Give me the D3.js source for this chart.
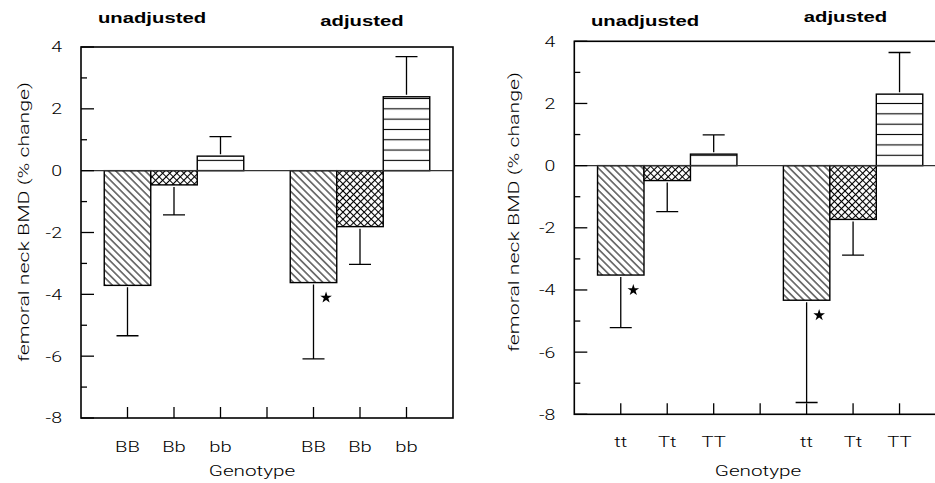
<!DOCTYPE html>
<html>
<head>
<meta charset="utf-8">
<script src="https://cdn.jsdelivr.net/npm/d3@7"></script>
<style>
  body { margin: 0; background: #fff; }
  text { font-family: Roboto, "Liberation Sans", Arial, sans-serif; font-weight: 300; fill: #000; }
  text.title { font-family: "Liberation Sans", Arial, sans-serif; font-weight: bold; }
</style>
</head>
<body>
<div id="chart"></div>
<script>
// data
var groups = ["unadjusted", "adjusted"];
var leftGenotypes = ["BB", "Bb", "bb"];
var leftMeans = [-3.71, -0.46, 0.47, -3.62, -1.81, 2.39];
var leftErrors = [1.63, 0.97, 0.63, 2.47, 1.22, 1.30];
var leftSig = [false, false, false, true, false, false];

var rightGenotypes = ["tt", "Tt", "TT"];
var rightMeans = [-3.52, -0.48, 0.37, -4.33, -1.73, 2.30];
var rightErrors = [1.69, 1.00, 0.62, 3.29, 1.15, 1.34];
var rightSig = [true, false, false, true, false, false];

var yMajorTicks = [-8, -6, -4, -2, 0, 2, 4];
var yMinorTicks = [-7, -5, -3, -1, 1, 3];
var xTickPositions = [1, 2, 3, 4, 5, 6, 7];
var patterns = ["diag", "cross", "stripe"];

var yLabel = "femoral neck BMD (% change)";
var xLabel = "Genotype";

var width = 935, height = 483;
var stretch = 1.43; // glyphs in the figure are wide

var svg = d3
  .select("#chart")
  .append("svg")
  .attr("width", width)
  .attr("height", height);

var defs = svg.append("defs");

// hatch patterns shared by both panels
var diag = defs
  .append("pattern")
  .attr("id", "diag")
  .attr("patternUnits", "userSpaceOnUse")
  .attr("width", 5.2)
  .attr("height", 5.2)
  .attr("patternTransform", "rotate(45)");
diag.append("rect").attr("width", 5.2).attr("height", 5.2).attr("fill", "#fff");
diag
  .append("line")
  .attr("x1", 0).attr("x2", 5.2)
  .attr("y1", 2.6).attr("y2", 2.6)
  .attr("stroke", "#000")
  .attr("stroke-width", 1);

var cross = defs
  .append("pattern")
  .attr("id", "cross")
  .attr("patternUnits", "userSpaceOnUse")
  .attr("width", 5)
  .attr("height", 5)
  .attr("patternTransform", "rotate(45)");
cross.append("rect").attr("width", 5).attr("height", 5).attr("fill", "#fff");
cross
  .append("path")
  .attr("d", "M0,2.5H5M2.5,0V5")
  .attr("stroke", "#000")
  .attr("stroke-width", 1.1);

function addText(g, x, y, str, opts) {
  opts = opts || {};
  var t = g
    .append("text")
    .attr(
      "transform",
      "translate(" + x + "," + y + ")" + (opts.rotate ? " rotate(-90)" : "") +
        " scale(" + (opts.sx || stretch) + ",1)"
    )
    .attr("text-anchor", opts.anchor || "middle")
    .style("font-size", (opts.size || 14) + "px")
    .text(str);
  if (opts.bold) t.attr("class", "title");
  if (opts.dy) t.attr("dy", opts.dy);
  return t;
}

function drawPanel(p) {
  var x = d3.scaleLinear().domain([0, 8]).range([p.left, p.right]);
  var y = d3.scaleLinear().domain([-8, 4]).range([p.bottom, p.top]);
  var g = svg.append("g");
  var unit = x(1) - x(0);

  // horizontal stripes, anchored on the zero line
  var period = y(0) - y(1 / 3);
  var stripe = defs
    .append("pattern")
    .attr("id", "stripe" + p.id)
    .attr("patternUnits", "userSpaceOnUse")
    .attr("x", 0)
    .attr("y", y(0) - period / 2)
    .attr("width", 20)
    .attr("height", period);
  stripe.append("rect").attr("width", 20).attr("height", period).attr("fill", "#fff");
  stripe
    .append("line")
    .attr("x1", 0).attr("x2", 20)
    .attr("y1", period / 2).attr("y2", period / 2)
    .attr("stroke", "#000")
    .attr("stroke-width", 1.1);

  var bars = p.means.map(function (m, i) {
    return {
      pos: Math.floor(i / 3) * 4 + (i % 3) + 1,
      mean: m,
      err: p.errors[i],
      sig: p.sig[i],
      fill: patterns[i % 3] === "stripe" ? "stripe" + p.id : patterns[i % 3],
    };
  });

  // bars
  g.selectAll(".bar")
    .data(bars)
    .enter()
    .append("rect")
    .attr("class", "bar")
    .attr("x", function (d) { return x(d.pos - 0.5); })
    .attr("width", unit)
    .attr("y", function (d) { return y(Math.max(0, d.mean)); })
    .attr("height", function (d) { return Math.abs(y(d.mean) - y(0)); })
    .attr("fill", function (d) { return "url(#" + d.fill + ")"; })
    .attr("stroke", "#000")
    .attr("stroke-width", 1.4);

  // one-sided error bars
  var capW = 22;
  g.selectAll(".err")
    .data(bars)
    .enter()
    .append("path")
    .attr("class", "err")
    .attr("fill", "none")
    .attr("stroke", "#000")
    .attr("stroke-width", 1.3)
    .attr("d", function (d) {
      var s = d.mean < 0 ? -1 : 1;
      var cx = x(d.pos);
      var y0 = y(d.mean) - s * 2;
      var y1 = y(d.mean + s * d.err);
      return "M" + cx + "," + y0 + "V" + y1 + "M" + (cx - capW / 2) + "," + y1 + "H" + (cx + capW / 2);
    });

  // significance stars
  g.selectAll(".star")
    .data(bars.filter(function (d) { return d.sig; }))
    .enter()
    .append("path")
    .attr("class", "star")
    .attr("d", d3.symbol().type(d3.symbolStar).size(42))
    .attr("transform", function (d) {
      return "translate(" + x(d.pos + 0.27) + "," + (y(d.mean) + 15) + ")";
    })
    .attr("fill", "#000");

  // zero line
  g.append("line")
    .attr("x1", x(0)).attr("x2", x(8))
    .attr("y1", y(0)).attr("y2", y(0))
    .attr("stroke", "#333")
    .attr("stroke-width", 1.1);

  // frame
  g.append("rect")
    .attr("x", x(0))
    .attr("y", y(4))
    .attr("width", x(8) - x(0))
    .attr("height", y(-8) - y(4))
    .attr("fill", "none")
    .attr("stroke", "#000")
    .attr("stroke-width", 1.6);

  // y ticks drawn inward
  g.selectAll(".ymaj")
    .data(yMajorTicks)
    .enter()
    .append("line")
    .attr("x1", x(0)).attr("x2", x(0) + 13)
    .attr("y1", function (d) { return y(d); })
    .attr("y2", function (d) { return y(d); })
    .attr("stroke", "#000")
    .attr("stroke-width", 1.3);
  g.selectAll(".ymin")
    .data(yMinorTicks)
    .enter()
    .append("line")
    .attr("x1", x(0)).attr("x2", x(0) + 6)
    .attr("y1", function (d) { return y(d); })
    .attr("y2", function (d) { return y(d); })
    .attr("stroke", "#000")
    .attr("stroke-width", 1.3);
  yMajorTicks.forEach(function (v) {
    addText(g, x(0) - 19, y(v), String(v), { anchor: "end", dy: "0.36em", size: 15, sx: 1.3 });
  });

  // x ticks drawn upward
  g.selectAll(".xt")
    .data(xTickPositions)
    .enter()
    .append("line")
    .attr("x1", function (d) { return x(d); })
    .attr("x2", function (d) { return x(d); })
    .attr("y1", y(-8)).attr("y2", y(-8) - 11)
    .attr("stroke", "#000")
    .attr("stroke-width", 1.3);
  bars.forEach(function (d, i) {
    addText(g, x(d.pos), p.xLabelY, p.genotypes[i % 3], { size: 15, sx: 1.35 });
  });

  addText(g, p.genoX, 476, xLabel, { size: 15, sx: 1.38 });
  addText(g, p.yLabelX, p.yLabelY, yLabel, { rotate: true, size: 15, sx: 1.42 });

  groups.forEach(function (name, i) {
    addText(g, p.titleX[i], p.titleY[i], name, { bold: true, size: 14, sx: 1.45 });
  });
}

drawPanel({
  id: "L",
  left: 81, right: 453, top: 47, bottom: 418,
  means: leftMeans, errors: leftErrors, sig: leftSig, genotypes: leftGenotypes,
  xLabelY: 452, genoX: 252, yLabelX: 29, yLabelY: 222,
  titleX: [152, 362], titleY: [23, 26],
});

drawPanel({
  id: "R",
  left: 574.3, right: 946, top: 41.3, bottom: 414.3,
  means: rightMeans, errors: rightErrors, sig: rightSig, genotypes: rightGenotypes,
  xLabelY: 447, genoX: 758, yLabelX: 519, yLabelY: 212,
  titleX: [645, 845.5], titleY: [25.5, 22],
});
</script>
</body>
</html>
